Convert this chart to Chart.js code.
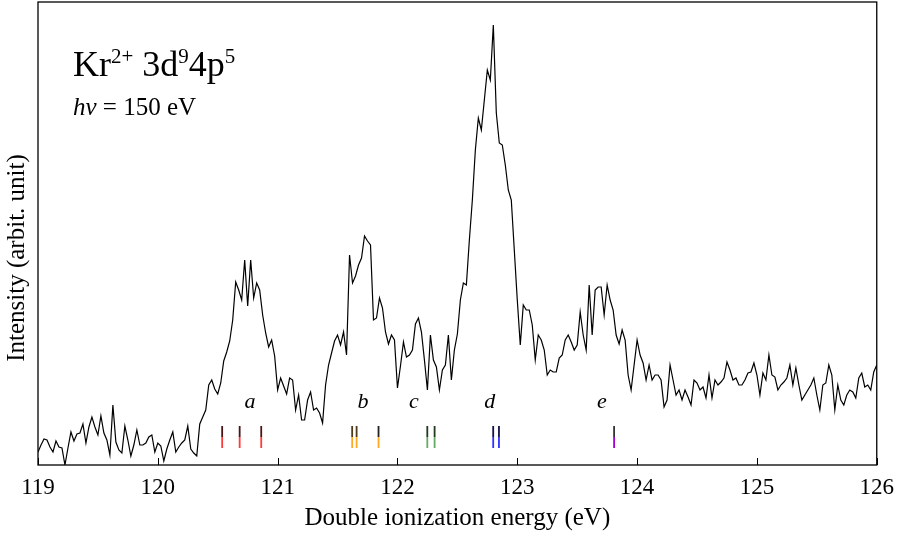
<!DOCTYPE html>
<html>
<head>
<meta charset="utf-8">
<script src="https://cdn.jsdelivr.net/npm/chart.js@4.4.1/dist/chart.umd.min.js"></script>
<style>
  html, body { margin: 0; padding: 0; background: #fff; }
  #spec { display: block; }
</style>
</head>
<body>
<canvas id="spec" width="903" height="533"></canvas>
<script>
// energy grid of the spectrum (eV)
var eStart = 119.0;
var eStep = 0.025;

// intensity, one value per grid step
var intensity = [
  13, 20, 26, 25, 18, 13, 24, 18, 17, 0,
  17, 33, 24, 31, 32, 41, 22, 38, 48, 38,
  30, 49, 32, 25, 10, 60, 23, 15, 12, 39,
  25, 9, 20, 35, 20, 20, 22, 28, 30, 13,
  22, 19, 4, 16, 25, 33, 13, 18, 22, 25,
  39, 16, 12, 9, 41, 48, 55, 80, 85, 76,
  71, 82, 104, 113, 124, 145, 183, 175, 165, 205,
  159, 205, 167, 182, 175, 150, 132, 118, 125, 109,
  75, 87, 79, 71, 87, 85, 55, 70, 45, 45,
  65, 73, 55, 57, 52, 42, 80, 100, 112, 124,
  130, 120, 133, 110, 210, 182, 189, 200, 207, 229,
  224, 220, 145, 147, 167, 157, 133, 121, 130, 125,
  77, 99, 123, 108, 110, 115, 141, 147, 133, 105,
  75, 130, 105, 98, 75, 95, 100, 130, 85, 115,
  131, 165, 182, 180, 225, 265, 315, 347, 335, 365,
  395, 385, 440, 352, 322, 320, 300, 275, 265, 215,
  165, 120, 160, 155, 155, 140, 105, 130, 125, 115,
  90, 95, 93, 93, 107, 110, 125, 130, 123, 115,
  120, 153, 130, 115, 180, 130, 175, 178, 178, 150,
  180, 165, 155, 130, 121, 135, 125, 90, 75, 100,
  125, 110, 102, 85, 100, 85, 90, 90, 85, 58,
  65, 100, 85, 70, 75, 65, 75, 68, 60, 85,
  82, 75, 78, 67, 90, 67, 85, 80, 83, 87,
  103, 95, 85, 87, 80, 80, 85, 92, 93, 102,
  90, 70, 92, 85, 110, 90, 88, 75, 80, 83,
  87, 100, 80, 97, 80, 65, 70, 75, 80, 87,
  70, 55, 80, 82, 100, 90, 55, 80, 65, 60,
  70, 75, 73, 67, 87, 92, 78, 80, 75, 93,
  100
];

// calculated level positions (eV) and their colours
var levelE = [120.537, 120.683, 120.863, 121.622, 121.659, 121.842, 122.249, 122.310, 122.799, 122.847, 123.808];
var levelColor = ['#ff3c3c', '#ff3c3c', '#ff3c3c', '#ffaa22', '#ffaa22', '#ffaa22', '#66aa66', '#66aa66', '#3030ff', '#3030ff', '#a000d0'];
var levelTopColor = ['#4a1414', '#4a1414', '#4a1414', '#4d3a1a', '#4d3a1a', '#222222', '#1f3a1f', '#1f3a1f', '#10104a', '#10104a', '#333333'];

// group labels
var groupNames = ['a', 'b', 'c', 'd', 'e'];
var groupE = [120.769, 121.712, 122.137, 122.771, 123.706];

var xTicks = [119, 120, 121, 122, 123, 124, 125, 126];

var serif = "'Liberation Serif', 'Times New Roman', serif";

var points = [];
for (var i = 0; i < intensity.length; i++) {
  points.push({x: eStart + i * eStep, y: intensity[i]});
}

var datasets = [{
  data: points,
  borderColor: '#000',
  borderWidth: 1.2,
  pointRadius: 0,
  showLine: true,
  tension: 0
}];

// each level mark: coloured lower half, dark upper half
for (var j = 0; j < levelE.length; j++) {
  datasets.push({
    data: [{x: levelE[j], y: 17}, {x: levelE[j], y: 28}],
    borderColor: levelColor[j], borderWidth: 1.8, pointRadius: 0, showLine: true
  });
  datasets.push({
    data: [{x: levelE[j], y: 28}, {x: levelE[j], y: 39}],
    borderColor: levelTopColor[j], borderWidth: 1.8, pointRadius: 0, showLine: true
  });
}

var decor = {
  id: 'decor',
  afterDraw: function(chart) {
    var ctx = chart.ctx;
    var a = chart.chartArea;
    var xs = chart.scales.x;
    var ys = chart.scales.y;
    ctx.save();
    // frame
    ctx.strokeStyle = '#000';
    ctx.lineWidth = 1.3;
    ctx.strokeRect(a.left, a.top, a.right - a.left, a.bottom - a.top);
    // inward ticks
    ctx.lineWidth = 1;
    xTicks.forEach(function(v) {
      var px = Math.round(xs.getPixelForValue(v)) + 0.5;
      ctx.beginPath();
      ctx.moveTo(px, a.bottom);
      ctx.lineTo(px, a.bottom - 7);
      ctx.stroke();
    });
    ctx.fillStyle = '#000';
    // group labels
    ctx.font = 'italic 22px ' + serif;
    ctx.textAlign = 'center';
    ctx.textBaseline = 'alphabetic';
    for (var k = 0; k < groupNames.length; k++) {
      ctx.fillText(groupNames[k], xs.getPixelForValue(groupE[k]), ys.getPixelForValue(57));
    }
    // title with superscripts
    ctx.textAlign = 'left';
    var x = 73, base = 76;
    var parts = [['Kr', 36, 0], ['2+', 21, 13], [' 3d', 36, 0], ['9', 21, 13], ['4p', 36, 0], ['5', 21, 13]];
    parts.forEach(function(p) {
      ctx.font = p[1] + 'px ' + serif;
      ctx.fillText(p[0], x, base - p[2]);
      x += ctx.measureText(p[0]).width;
    });
    // photon energy
    x = 73; base = 115;
    ctx.font = 'italic 25px ' + serif;
    ctx.fillText('h\u03bd', x, base);
    x += ctx.measureText('h\u03bd').width;
    ctx.font = '25px ' + serif;
    ctx.fillText(' = 150 eV', x, base);
    // axis titles
    ctx.textAlign = 'center';
    ctx.textBaseline = 'middle';
    ctx.font = '25px ' + serif;
    ctx.fillText('Double ionization energy (eV)', (a.left + a.right) / 2, 518);
    ctx.translate(17, 258);
    ctx.rotate(-Math.PI / 2);
    ctx.fillText('Intensity (arbit. unit)', 0, 0);
    ctx.restore();
  }
};

new Chart(document.getElementById('spec'), {
  type: 'scatter',
  data: { datasets: datasets },
  options: {
    responsive: false,
    animation: false,
    devicePixelRatio: 1,
    layout: { padding: { left: 38, right: 26, top: 2, bottom: 0 } },
    plugins: { legend: { display: false }, tooltip: { enabled: false } },
    scales: {
      x: {
        type: 'linear',
        min: 119,
        max: 126,
        afterBuildTicks: function(s) { s.ticks = xTicks.map(function(v) { return {value: v}; }); },
        afterFit: function(s) { s.height = 68; },
        border: { display: false },
        grid: { display: false, drawTicks: false },
        ticks: { color: '#000', padding: 9, font: { family: serif, size: 23 }, maxRotation: 0 }
      },
      y: {
        display: false,
        min: 0,
        max: 463
      }
    }
  },
  plugins: [decor]
});
</script>
</body>
</html>
